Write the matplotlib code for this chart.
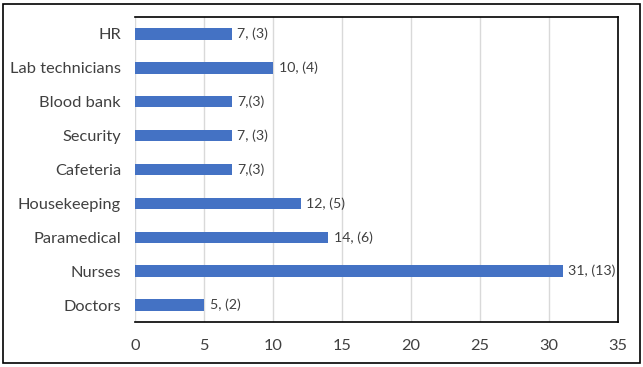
import matplotlib.pyplot as plt
from matplotlib.patches import Rectangle

categories = ["Doctors", "Nurses", "Paramedical", "Housekeeping", "Cafeteria",
              "Security", "Blood bank", "Lab technicians", "HR"]
values = [5, 31, 14, 12, 7, 7, 7, 10, 7]
labels = ["5, (2)", "31, (13)", "14, (6)", "12, (5)", "7,(3)",
          "7, (3)", "7,(3)", "10, (4)", "7, (3)"]

plt.rcParams['font.family'] = ['Lato', 'DejaVu Sans']

fig = plt.figure(figsize=(6.43, 3.67), dpi=100)
ax = fig.add_axes([135/643, 1 - 322/367, (618-135)/643, (322-17)/367])

ypos = list(range(len(categories)))
bars = ax.barh(ypos, values, height=0.34, color="#4472C4", zorder=3)
for b, lab in zip(bars, labels):
    ax.text(b.get_width() + 0.4, b.get_y() + b.get_height()/2, lab,
            va="center", ha="left", fontsize=10.2, color="#404040")

ax.set_xlim(0, 35)
ax.set_ylim(-0.5, len(categories) - 0.5)
ax.set_xticks(range(0, 36, 5))
ax.set_yticks(ypos)
ax.set_yticklabels(categories)
ax.tick_params(axis="both", length=0, labelsize=11.8, colors="#404040")
ax.tick_params(axis="x", pad=12)
ax.tick_params(axis="y", pad=10)
ax.xaxis.grid(True, color="#D9D9D9", linewidth=1, zorder=0)
for s in ["top", "right", "bottom"]:
    ax.spines[s].set_color("black")
    ax.spines[s].set_linewidth(1.2)
ax.spines["left"].set_visible(False)

fig.patches.append(Rectangle((0.004, 0.01), 0.992, 0.978, transform=fig.transFigure,
                             fill=False, edgecolor="black", linewidth=1.2))

fig.savefig("out.png", dpi=100)
